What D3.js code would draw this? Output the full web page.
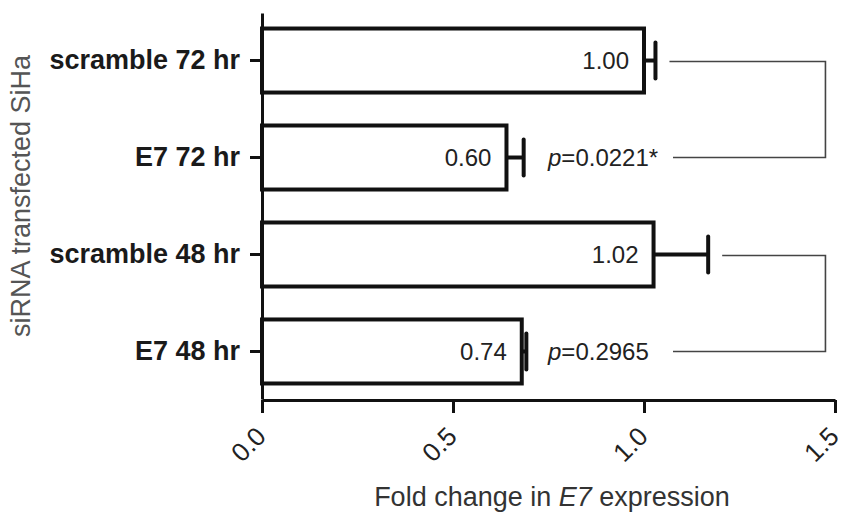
<!DOCTYPE html>
<html>
<head>
	<style>
		body { margin: 0; background-color: #ffffff; }
		svg { display: block; }
		text { font-family: "Liberation Sans", Arial, sans-serif; }
	</style>
	<script src="https://cdn.jsdelivr.net/npm/d3@7"></script>
</head>
<body>
	<div id="chart"></div>
	<script>
		// values
		var categories = ["scramble 72 hr", "E7 72 hr", "scramble 48 hr", "E7 48 hr"];
		var means = [1.00, 0.64, 1.025, 0.68];
		var errors = [0.03, 0.045, 0.143, 0.012];
		var valueLabels = ["1.00", "0.60", "1.02", "0.74"];
		var pairs = [[0, 1], [2, 3]];
		var pValues = ["0.0221*", "0.2965"];
		var xTicks = [0, 0.5, 1.0, 1.5];

		var width = 846, height = 513;

		var svg = d3.select("#chart").append("svg")
			.attr("width", width)
			.attr("height", height);

		var x = d3.scaleLinear().domain([0, 1.5]).range([262, 835]);
		var y = d3.scaleBand().domain(categories).range([13, 399])
			.paddingInner(0.34).paddingOuter(0.16);

		// bars
		svg.selectAll("rect.bar")
			.data(categories)
			.enter().append("rect")
			.attr("class", "bar")
			.attr("x", x(0))
			.attr("y", function(d) { return y(d); })
			.attr("width", function(d, i) { return x(means[i]) - x(0); })
			.attr("height", y.bandwidth())
			.style("fill", "#fff")
			.style("stroke", "#111")
			.style("stroke-width", 4);

		// error bars
		var eb = svg.selectAll("g.err")
			.data(categories)
			.enter().append("g")
			.attr("class", "err");
		eb.append("line")
			.attr("x1", function(d, i) { return x(means[i]); })
			.attr("x2", function(d, i) { return x(means[i] + errors[i]); })
			.attr("y1", function(d) { return y(d) + y.bandwidth() / 2; })
			.attr("y2", function(d) { return y(d) + y.bandwidth() / 2; })
			.style("stroke", "#111").style("stroke-width", 4);
		eb.append("line")
			.attr("x1", function(d, i) { return x(means[i] + errors[i]); })
			.attr("x2", function(d, i) { return x(means[i] + errors[i]); })
			.attr("y1", function(d) { return y(d) + y.bandwidth() / 2 - 18; })
			.attr("y2", function(d) { return y(d) + y.bandwidth() / 2 + 18; })
			.style("stroke", "#111").style("stroke-width", 4)
			.style("stroke-linecap", "round");

		// value labels inside the bars
		svg.selectAll("text.val")
			.data(categories)
			.enter().append("text")
			.attr("class", "val")
			.attr("x", function(d, i) { return x(means[i]) - 15; })
			.attr("y", function(d) { return y(d) + y.bandwidth() / 2; })
			.attr("dy", "0.36em")
			.attr("text-anchor", "end")
			.style("font-size", "24px")
			.style("fill", "#222")
			.text(function(d, i) { return valueLabels[i]; });

		// comparison brackets with p values
		var bx = x(1.475);
		pairs.forEach(function(p, k) {
			var top = categories[p[0]], bot = categories[p[1]];
			var yt = y(top) + y.bandwidth() / 2 + 1;
			var yb = y(bot) + y.bandwidth() / 2;
			var xt = x(means[p[0]] + errors[p[0]]) + 14;
			var xb = 673;
			svg.append("path")
				.attr("d", "M" + xt + "," + yt + "H" + bx + "V" + yb + "H" + xb)
				.style("fill", "none")
				.style("stroke", "#444")
				.style("stroke-width", 1.6);
			var t = svg.append("text")
				.attr("x", 548)
				.attr("y", yb)
				.attr("dy", "0.36em")
				.style("font-size", "24px")
				.style("fill", "#222");
			t.append("tspan").style("font-style", "italic").text("p");
			t.append("tspan").text("=" + pValues[k]);
		});

		// x axis
		var xAxis = svg.append("g")
			.attr("transform", "translate(0,400)")
			.call(d3.axisBottom(x).tickValues(xTicks).tickSize(13).tickSizeOuter(0)
				.tickFormat(d3.format(".1f")));
		xAxis.select(".domain").style("stroke", "#111").style("stroke-width", 3);
		xAxis.selectAll(".tick line").style("stroke", "#111").style("stroke-width", 3);
		xAxis.selectAll(".tick text")
			.attr("x", 0).attr("y", 0).attr("dy", 0)
			.attr("text-anchor", "end")
			.attr("transform", "translate(5,38) rotate(-45)")
			.style("font-size", "26px")
			.style("fill", "#222");

		// y axis
		var yAxis = svg.append("g")
			.attr("transform", "translate(" + x(0) + ",0)")
			.call(d3.axisLeft(y).tickSize(12).tickSizeOuter(0).tickPadding(10));
		yAxis.select(".domain").style("stroke", "#111").style("stroke-width", 3);
		yAxis.selectAll(".tick line").style("stroke", "#111").style("stroke-width", 3);
		yAxis.selectAll(".tick text")
			.style("font-size", "27px")
			.style("font-weight", "bold")
			.style("fill", "#1a1a1a");

		// axis titles
		var xt = svg.append("text")
			.attr("x", 552)
			.attr("y", 506)
			.attr("text-anchor", "middle")
			.style("font-size", "27px")
			.style("fill", "#333");
		xt.append("tspan").text("Fold change in ");
		xt.append("tspan").style("font-style", "italic").text("E7");
		xt.append("tspan").text(" expression");

		svg.append("text")
			.attr("transform", "translate(30,196) rotate(-90)")
			.attr("text-anchor", "middle")
			.style("font-size", "27px")
			.style("fill", "#555")
			.text("siRNA transfected SiHa");
	</script>
</body>
</html>
